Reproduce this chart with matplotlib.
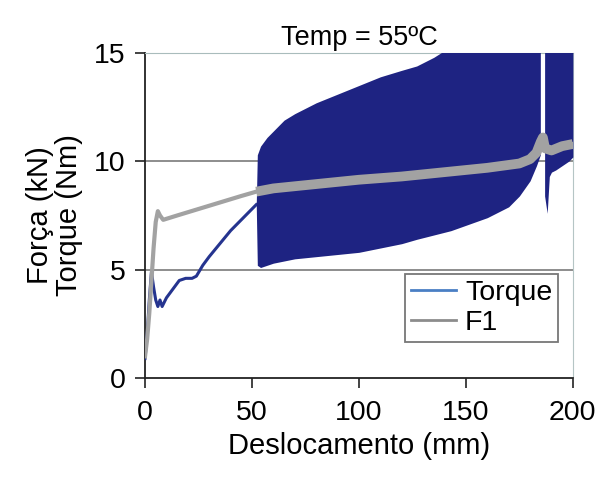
import numpy as np
import matplotlib
matplotlib.use('Agg')
import matplotlib.pyplot as plt
from matplotlib.lines import Line2D

plt.rcParams['font.family'] = ['Liberation Sans', 'DejaVu Sans']

# Torque - partie initiale (avant les oscillations)
tq_x = [0, 1, 2, 3, 4, 5, 6, 7, 8, 10, 13, 16, 19, 22, 24, 27, 30, 35, 40, 45, 50, 52]
tq_y = [0.9, 2.0, 3.6, 4.9, 4.2, 3.6, 3.3, 3.6, 3.3, 3.7, 4.1, 4.5, 4.6, 4.6, 4.7, 5.2, 5.6, 6.2, 6.8, 7.3, 7.8, 8.0]

# Torque - enveloppe des oscillations (section 1)
b1_x = [52, 52.5, 54, 57, 60, 65, 70, 80, 90, 100, 110, 120, 127, 135, 143, 160, 170, 175, 180, 183, 184.8]
b1_hi = [8.0, 10.3, 10.7, 11.1, 11.4, 11.9, 12.2, 12.7, 13.1, 13.5, 13.9, 14.2, 14.4, 14.8, 15.3, 15.3, 15.3, 15.3, 15.3, 15.3, 15.3]
b1_lo = [8.0, 5.2, 5.1, 5.2, 5.3, 5.4, 5.5, 5.6, 5.7, 5.8, 6.0, 6.2, 6.4, 6.6, 6.8, 7.4, 7.9, 8.4, 9.1, 9.8, 10.3]

# Torque - enveloppe des oscillations (section 2, après le pic)
b2_x = [186.8, 188, 189, 190, 192, 195, 198, 200]
b2_hi = [15.3, 15.3, 15.3, 15.3, 15.3, 15.3, 15.3, 15.3]
b2_lo = [8.4, 7.6, 9.3, 9.5, 9.6, 9.8, 10.0, 10.2]

# Force F1
f1_x = [0, 1, 2, 3, 4, 5, 6, 7, 8.5, 15, 25, 35, 45, 52, 60, 80, 100, 120, 140, 160, 175, 180, 183, 185, 186, 187, 190, 195, 200]
f1_y = [1.0, 1.8, 3.0, 4.5, 6.0, 7.2, 7.7, 7.5, 7.3, 7.5, 7.8, 8.1, 8.4, 8.6, 8.75, 8.95, 9.15, 9.3, 9.5, 9.7, 9.9, 10.1, 10.4, 10.9, 11.1, 10.6, 10.5, 10.7, 10.8]

x_ticks = [0, 50, 100, 150, 200]
y_ticks = [0, 5, 10, 15]

navy = '#1e2382'
gris = '#a2a2a2'

fig = plt.figure(figsize=(6.03, 4.86), dpi=100)
ax = fig.add_axes([0.2405, 0.2222, 0.7095, 0.6688])

# Torque
ax.plot(tq_x, tq_y, color='#25348f', lw=2.2, zorder=3)
ax.fill_between(b1_x, b1_lo, b1_hi, color=navy, lw=0, zorder=3)
ax.fill_between(b2_x, b2_lo, b2_hi, color=navy, lw=0, zorder=3)

# F1
ax.plot(f1_x, f1_y, color=gris, lw=3, zorder=4)
i52 = f1_x.index(52)
ax.plot(f1_x[i52:], f1_y[i52:], color=gris, lw=7, zorder=4, solid_capstyle='butt')

ax.set_xlim(0, 200)
ax.set_ylim(0, 15)
ax.set_xticks(x_ticks)
ax.set_yticks(y_ticks)

# Grille horizontale
for yv in [5, 10]:
    ax.axhline(yv, color='#858585', lw=1.3, zorder=1)
ax.set_axisbelow(True)

ax.spines['top'].set_color('#a9bcbc')
ax.spines['right'].set_color('#b5c5c5')
ax.spines['left'].set_color('#222222')
ax.spines['bottom'].set_color('#222222')
for s in ['left', 'bottom']:
    ax.spines[s].set_linewidth(1.3)

ax.tick_params(axis='both', direction='out', length=7, width=1.2, labelsize=20.5, colors='#222222')
ax.tick_params(axis='y', pad=7)
ax.tick_params(axis='x', pad=9)
for t in ax.get_xticklabels() + ax.get_yticklabels():
    t.set_color('black')

ax.set_title('Temp = 55ºC', fontsize=19.5, pad=6)
ax.set_xlabel('Deslocamento (mm)', fontsize=21, labelpad=4)
ax.set_ylabel('Força (kN)\nTorque (Nm)', fontsize=21, labelpad=8, linespacing=1.05)

handles = [Line2D([0], [0], color='#4a7fc4', lw=2),
           Line2D([0], [0], color='#8c8c8c', lw=2)]
leg = ax.legend(handles, ['Torque', 'F1'], loc='lower right', bbox_to_anchor=(0.965, 0.111),
                fontsize=20.5, frameon=True, fancybox=False, borderpad=0.2, handlelength=1.6,
                handletextpad=0.3, labelspacing=0.15, borderaxespad=0)
leg.get_frame().set_edgecolor('#555555')
leg.get_frame().set_linewidth(1.3)
leg.set_zorder(5)

plt.savefig('out.png', dpi=100)
